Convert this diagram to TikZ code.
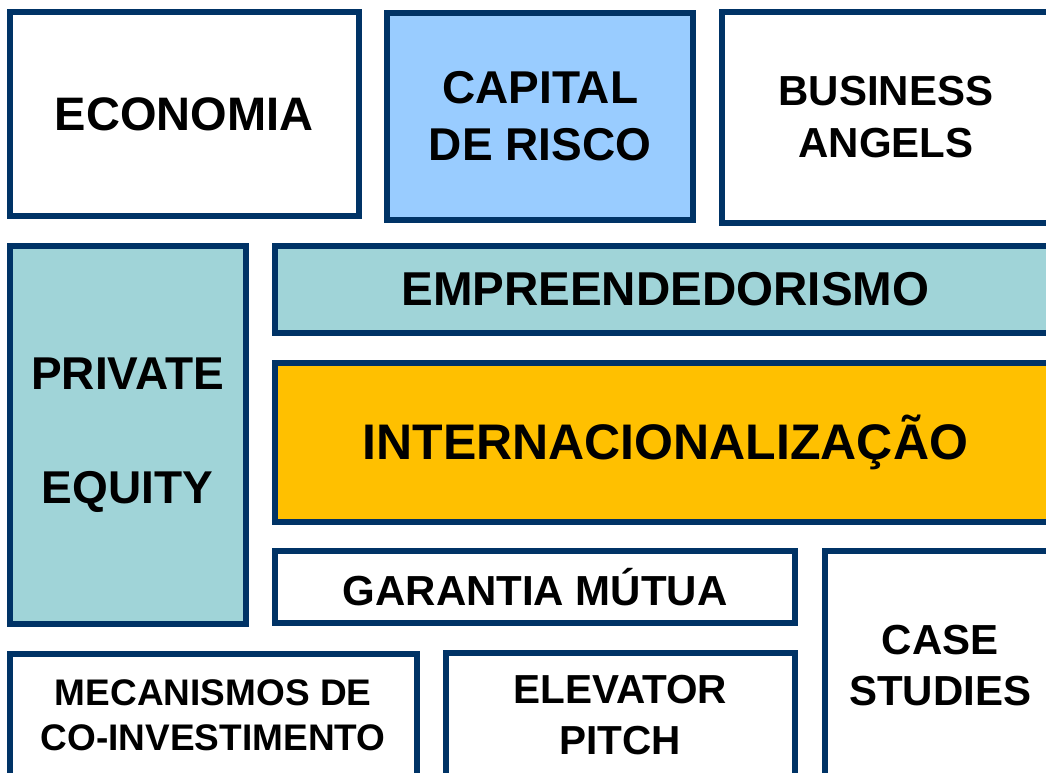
\documentclass[tikz,border=0pt]{standalone}
\usepackage{fontspec}
\setmainfont{Liberation Sans}
\usetikzlibrary{positioning}
\definecolor{marine}{HTML}{003366}
\definecolor{bleu}{HTML}{99CCFF}
\definecolor{turquoise}{HTML}{A0D4D8}
\definecolor{orange}{HTML}{FFC000}
\newcommand{\police}[2]{\fontsize{#1}{#2}\selectfont\bfseries}
\tikzstyle{boite-std}=[draw=marine, line width=6pt, rectangle, anchor=north west, outer sep=0pt, inner sep=0pt, align=center, fill=white]

\begin{document}
\begin{tikzpicture}[x=1pt, y=-1pt]
        \useasboundingbox (0,0) rectangle (1046,773);
        \clip (0,0) rectangle (1046,773);
        % ligne 1
        \node[boite-std, minimum width=349pt, minimum height=203.5pt, font=\police{47}{57}] (eco) at (9.5,12.5) {ECONOMIA};
        \node[boite-std, fill=bleu, minimum width=305.7pt, minimum height=206.5pt, font=\police{46}{57}] (capital) at (387.3,13) {CAPITAL\\DE RISCO};
        \node[boite-std, minimum width=328pt, minimum height=210pt, font=\police{42}{52}] (angels) at (722,12.5) {BUSINESS\\ANGELS};
        % ligne 2
        \node[boite-std, fill=turquoise, minimum width=236pt, minimum height=377.7pt, font=\police{46}{114}] (equity) at (9.5,246) {PRIVATE\\EQUITY};
        \node[boite-std, fill=turquoise, minimum width=780pt, minimum height=87pt, font=\police{47.5}{57}] (empreend) at (275.3,246) {EMPREENDEDORISMO};
        \node[boite-std, fill=orange, minimum width=780pt, minimum height=159.5pt, font=\police{50}{60}] (internac) at (275.3,362.5) {INTERNACIONALIZAÇÃO};
        \node[boite-std, minimum width=519.7pt, minimum height=72pt, font=\police{42}{50}] (garantia) at (275.3,551.3) {GARANTIA MÚTUA};
        \node[boite-std, minimum width=231pt, minimum height=229pt, font=\police{42}{51}] (cases) at (824.7,551.3) {CASE\\STUDIES};
        % ligne 3
        \node[boite-std, minimum width=407.3pt, minimum height=122pt, font=\police{37}{45}] (coinv) at (9.5,654) {MECANISMOS DE\\CO-INVESTIMENTO};
        \node[boite-std, minimum width=349.5pt, minimum height=125pt, font=\police{40.5}{51}] (pitch) at (445.5,653) {ELEVATOR\\PITCH};
    \end{tikzpicture}
\end{document}
